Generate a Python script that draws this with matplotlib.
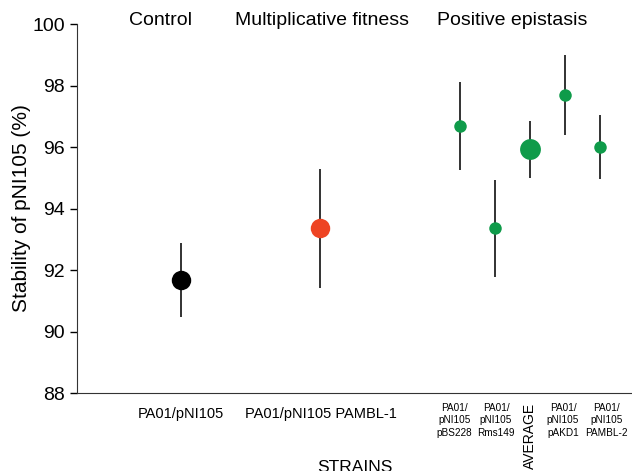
import numpy as np
import matplotlib.pyplot as plt

plt.rcParams["font.family"] = ["Liberation Sans", "DejaVu Sans"]

# stability of pNI105 (%) per strain, with error bars
strains = ["PA01/pNI105", "PA01/pNI105 PAMBL-1",
           "PA01/\npNI105\npBS228", "PA01/\npNI105\nRms149", "AVERAGE",
           "PA01/\npNI105\npAKD1", "PA01/\npNI105\nPAMBL-2"]
stability = [91.67, 93.35, 96.68, 93.35, 95.93, 97.70, 96.00]
errors = [1.21, 1.95, 1.43, 1.57, 0.93, 1.30, 1.04]
groups = ["Control", "Multiplicative fitness", "Positive epistasis"]

green = "#0f9b4a"
colors = ["black", "#ee4423", green, green, green, green, green]
sizes = [14, 14, 9, 9, 15, 9, 9]

# two single strains, then the epistasis cluster packed tighter
xpos = np.array([1.0, 2.0, 3.0, 3.25, 3.5, 3.75, 4.0])
group_x = [0.857, 2.014, 3.37]
# small sideways nudges (points) so the narrow labels don't collide
label_dx = [0, 0, -4.3, 0.7, 0, -1.4, 5]

fig = plt.figure(figsize=(6.32, 4.71), dpi=100)
ax = fig.add_axes([0.1218, 0.1656, 0.8782, 0.7834])

for x, m, e, c, s in zip(xpos, stability, errors, colors, sizes):
    ax.errorbar(x, m, yerr=e, fmt="o", color=c, ecolor="#222222",
                elinewidth=1.3, capsize=0, markersize=s, markeredgewidth=0,
                zorder=3)

ax.set_xlim(0.257, 4.23)
ax.set_ylim(88, 100)
ax.set_yticks(np.arange(88, 101, 2))
ax.tick_params(axis="y", labelsize=14, length=5, width=1, direction="out")
ax.set_ylabel("Stability of pNI105 (%)", fontsize=15, labelpad=1)

# strain names under the axis, drawn by hand so each can have its own size
ax.set_xticks(xpos, [])
ax.tick_params(axis="x", length=0)
for x, name, dx in zip(xpos, strains, label_dx):
    if "\n" not in name and name != "AVERAGE":
        kw = dict(fontsize=10.5, xytext=(dx, -10))
    elif name == "AVERAGE":
        kw = dict(fontsize=10, rotation=90, xytext=(dx, -7))
    else:
        kw = dict(fontsize=7.2, xytext=(dx, -7), linespacing=1.3)
    ax.annotate(name, xy=(x, 0), xycoords=("data", "axes fraction"),
                textcoords="offset points", ha="center", va="top", **kw)

ax.annotate("STRAINS", xy=(0.5, 0), xycoords="axes fraction",
            xytext=(0, -48), textcoords="offset points",
            ha="center", va="top", fontsize=12.5)

for gx, g in zip(group_x, groups):
    ax.text(gx, 100.13, g, ha="center", va="center", fontsize=14)

for side in ["top", "right"]:
    ax.spines[side].set_visible(False)
ax.spines["left"].set_color("#333333")
ax.spines["bottom"].set_color("#333333")

fig.savefig("out.png", dpi=100)
